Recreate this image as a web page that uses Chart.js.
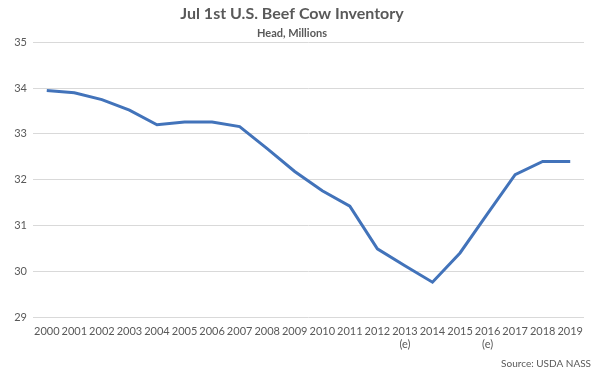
<!DOCTYPE html>
<html>
<head>
<meta charset="utf-8">
<script src="https://cdn.jsdelivr.net/npm/chart.js@4"></script>
<style>
  html, body { margin: 0; padding: 0; background: #fff; }
  #wrap { width: 600px; height: 370px; }
</style>
</head>
<body>
<div id="wrap"><canvas id="graph" width="600" height="370"></canvas></div>
<script>
// Chart data
const years = ['2000', '2001', '2002', '2003', '2004', '2005', '2006', '2007', '2008', '2009',
  '2010', '2011', '2012', ['2013', '(e)'], '2014', '2015', ['2016', '(e)'], '2017', '2018', '2019'];
const cowInventory = [33.95, 33.90, 33.75, 33.52, 33.20, 33.26, 33.26, 33.16, 32.68, 32.18,
  31.76, 31.42, 30.49, 30.12, 29.76, 30.40, 31.26, 32.11, 32.40, 32.40];
const yTicks = [29, 30, 31, 32, 33, 34, 35];

const textGrey = '#595959';
const fontName = 'Lato, "Open Sans", sans-serif';

// Source note in the bottom right corner
const sourceNote = {
  id: 'sourceNote',
  afterDraw(chart) {
    const ctx = chart.ctx;
    ctx.save();
    ctx.font = '10px ' + fontName;
    ctx.fillStyle = textGrey;
    ctx.textAlign = 'right';
    ctx.textBaseline = 'middle';
    ctx.fillText('Source: USDA NASS', 591, 364);
    ctx.restore();
  }
};

const ctx = document.getElementById('graph').getContext('2d');
const chart = new Chart(ctx, {
  type: 'line',
  data: {
    labels: years,
    datasets: [{
      label: 'Head, Millions',
      data: cowInventory,
      borderColor: '#4273BA',
      borderWidth: 3,
      pointRadius: 0,
      tension: 0,
      fill: false
    }]
  },
  options: {
    responsive: false,
    animation: false,
    layout: { padding: { left: 0, right: 16, bottom: 0 } },
    scales: {
      x: {
        offset: true,
        grid: { display: false },
        border: { display: false },
        ticks: {
          color: textGrey,
          font: { family: fontName, size: 11 },
          maxRotation: 0,
          autoSkip: false,
          padding: 0
        },
        afterFit(axis) { axis.height = 53; }
      },
      y: {
        min: 29,
        max: 35,
        afterBuildTicks(axis) { axis.ticks = yTicks.map(v => ({ value: v })); },
        grid: { color: '#d9d9d9', lineWidth: 1, drawTicks: false },
        border: { display: false },
        ticks: {
          color: textGrey,
          font: { family: fontName, size: 11 },
          padding: 6
        },
        afterFit(axis) { axis.width = 33; }
      }
    },
    plugins: {
      legend: { display: false },
      tooltip: { enabled: false },
      title: {
        display: true,
        text: 'Jul 1st U.S. Beef Cow Inventory',
        color: textGrey,
        font: { family: fontName, size: 16, weight: 'bold' },
        padding: { top: 4, bottom: 4 }
      },
      subtitle: {
        display: true,
        text: 'Head, Millions',
        color: textGrey,
        font: { family: fontName, size: 11, weight: 'bold' },
        padding: { top: 0, bottom: 2 }
      }
    }
  },
  plugins: [sourceNote]
});
</script>
</body>
</html>
